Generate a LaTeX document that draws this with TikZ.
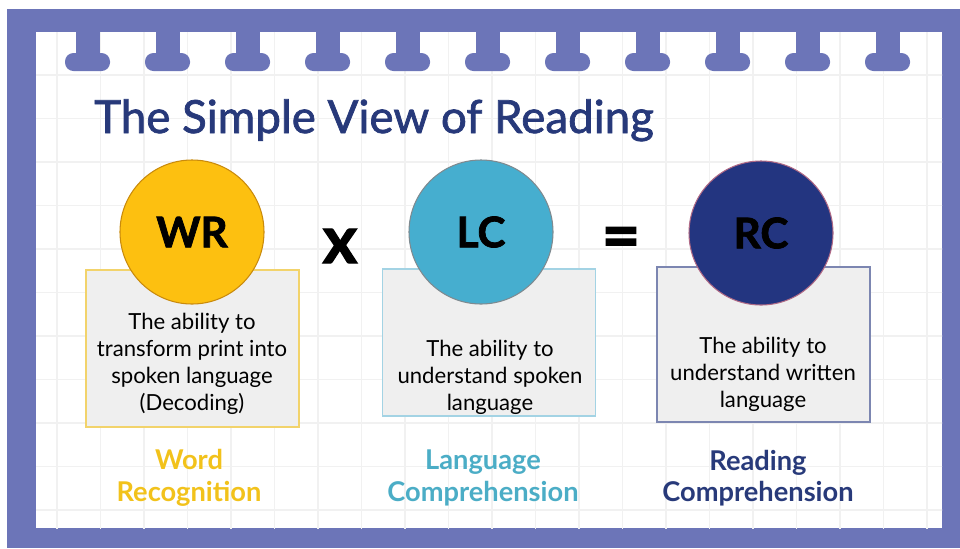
\documentclass[tikz,border=0pt]{standalone}
\usepackage{fontspec}
\setmainfont{Lato}
\newfontfamily\titlefont{Lato}[UprightFeatures={FakeBold=1.6}]
\newfontfamily\heavyfont{Lato}[BoldFeatures={FakeBold=1.8}]
\usepackage{tikz}

\definecolor{frame}{HTML}{6C75B8}
\definecolor{gridgray}{HTML}{F1F1F1}
\definecolor{boxgray}{HTML}{EFEFEF}
\definecolor{titleblue}{HTML}{27397A}
\definecolor{wrgold}{HTML}{FDC010}
\definecolor{wredge}{HTML}{C98A0C}
\definecolor{wrline}{HTML}{F2D36B}
\definecolor{wrtext}{HTML}{F2C21B}
\definecolor{lcblue}{HTML}{46AECF}
\definecolor{lcedge}{HTML}{7F8A90}
\definecolor{lcline}{HTML}{A3D3E4}
\definecolor{lctext}{HTML}{4BADC6}
\definecolor{rcnavy}{HTML}{233580}
\definecolor{rcedge}{HTML}{B06A86}
\definecolor{rcline}{HTML}{7C86B1}
\definecolor{rctext}{HTML}{283A7A}

\begin{document}
\begin{tikzpicture}[
    infobox/.style={draw, line width=0.7pt, fill=boxgray, minimum width=4.26cm, inner sep=0pt},
    ball/.style={circle, draw, line width=0.6pt, minimum size=2.88cm, inner sep=0pt,
        font=\heavyfont\fontsize{24}{24}\selectfont\bfseries},
    desc/.style={align=center, font=\fontsize{12.6}{15.3}\selectfont},
    skill/.style={align=center, font=\fontsize{15.5}{18}\selectfont\bfseries},
    operator/.style={font=\heavyfont\fontsize{38}{38}\selectfont\bfseries}
]
    \useasboundingbox (0,0) rectangle (19.2,-10.96);
    \fill[white] (0,0) rectangle (19.2,-10.96);

    % notebook frame
    \fill[frame] (0.14,-0.18) rectangle (19.2,-10.96);
    \fill[white] (0.72,-0.64) rectangle (18.84,-10.56);
    \begin{scope}
        \clip (0.72,-0.64) rectangle (18.84,-10.56);
        \draw[gridgray, line width=0.8pt, step=0.87cm, xshift=1.14cm, yshift=-1.5cm] (-1,-10) grid (18,1);
    \end{scope}

    % binder tabs
    \fill[frame] (1.51,-0.6) rectangle (1.99,-1.2);
    \fill[frame, rounded corners=0.17cm] (1.30,-1.06) rectangle (2.20,-1.42);
    \fill[frame] (3.11,-0.6) rectangle (3.59,-1.2);
    \fill[frame, rounded corners=0.17cm] (2.90,-1.06) rectangle (3.80,-1.42);
    \fill[frame] (4.71,-0.6) rectangle (5.19,-1.2);
    \fill[frame, rounded corners=0.17cm] (4.50,-1.06) rectangle (5.40,-1.42);
    \fill[frame] (6.31,-0.6) rectangle (6.79,-1.2);
    \fill[frame, rounded corners=0.17cm] (6.10,-1.06) rectangle (7.00,-1.42);
    \fill[frame] (7.91,-0.6) rectangle (8.39,-1.2);
    \fill[frame, rounded corners=0.17cm] (7.70,-1.06) rectangle (8.60,-1.42);
    \fill[frame] (9.51,-0.6) rectangle (9.99,-1.2);
    \fill[frame, rounded corners=0.17cm] (9.30,-1.06) rectangle (10.20,-1.42);
    \fill[frame] (11.11,-0.6) rectangle (11.59,-1.2);
    \fill[frame, rounded corners=0.17cm] (10.90,-1.06) rectangle (11.80,-1.42);
    \fill[frame] (12.71,-0.6) rectangle (13.19,-1.2);
    \fill[frame, rounded corners=0.17cm] (12.50,-1.06) rectangle (13.40,-1.42);
    \fill[frame] (14.31,-0.6) rectangle (14.79,-1.2);
    \fill[frame, rounded corners=0.17cm] (14.10,-1.06) rectangle (15.00,-1.42);
    \fill[frame] (15.91,-0.6) rectangle (16.39,-1.2);
    \fill[frame, rounded corners=0.17cm] (15.70,-1.06) rectangle (16.60,-1.42);
    \fill[frame] (17.51,-0.6) rectangle (17.99,-1.2);
    \fill[frame, rounded corners=0.17cm] (17.30,-1.06) rectangle (18.20,-1.42);

    \node[anchor=base west, text=titleblue, font=\titlefont\fontsize{26}{26}\selectfont] (title) at (1.76,-2.66) {The Simple View of Reading};

    % boxes
    \node[infobox, draw=wrline, minimum height=3.14cm] (wr box) at (3.85,-6.97) {};
    \node[infobox, draw=lcline, minimum height=2.94cm] (lc box) at (9.78,-6.85) {};
    \node[infobox, draw=rcline, minimum height=3.10cm] (rc box) at (15.27,-6.89) {};

    % circles
    \node[ball, fill=wrgold, draw=wredge] (wr) at (3.84,-4.64) {WR};
    \node[ball, fill=lcblue, draw=lcedge] (lc) at (9.62,-4.64) {LC};
    \node[ball, fill=rcnavy, draw=rcedge] (rc) at (15.22,-4.66) {RC};

    \node[operator] (times) at (6.80,-4.92) {x};
    \node[operator] (equals) at (12.42,-4.86) {=};

    \node[desc] (wr text) at (3.84,-7.28) {The ability to\\transform print into\\spoken language\\(Decoding)};
    \node[desc] (lc text) at (9.80,-7.54) {The ability to\\understand spoken\\language};
    \node[desc] (rc text) at (15.26,-7.48) {The ability to\\understand written\\language};

    \node[skill, text=wrtext] (wr name) at (3.78,-9.56) {Word\\Recognition};
    \node[skill, text=lctext] (lc name) at (9.66,-9.56) {Language\\Comprehension};
    \node[skill, text=rctext] (rc name) at (15.16,-9.56) {Reading\\Comprehension};
\end{tikzpicture}
\end{document}
